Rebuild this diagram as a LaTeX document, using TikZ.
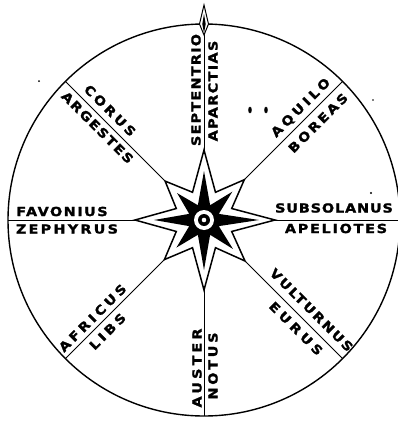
\documentclass[tikz,border=0pt]{standalone}
\usepackage{fontspec}
\newfontfamily\lab{DejaVu Sans Bold}[FakeStretch=1.15, FakeBold=1.6]
\newcommand\wsp[2]{{\addfontfeature{LetterSpace=#1}#2}}
\begin{document}
\begin{tikzpicture}[x=1pt,y=-1pt,
  lbl/.style={font=\lab\fontsize{12.5}{12.5}\selectfont, inner sep=0pt},
  rim/.style={line width=1.4pt},
  ray/.style={line width=1pt},
  outstar/.style={fill=white, draw=black, line width=1.5pt, line join=miter},
  instar/.style={fill=black}]
\useasboundingbox (0,0) rectangle (398,423);
\fill[white] (0,0) rectangle (398,423);
\coordinate (C) at (204,220);
\draw[rim] (C) circle[radius=196];
\begin{scope}[shift={(204,220)}]
  % rim points
  \coordinate (rN) at (-90:196);
  \coordinate (rS) at (90:196);
  \coordinate (rE) at (0:196);
  \coordinate (rW) at (180:196);
  \coordinate (rNE) at (-45:196);
  \coordinate (rSE) at (45:196);
  \coordinate (rSW) at (135:196);
  \coordinate (rNW) at (-135:196);
  % star tips
  \coordinate (tN) at (-90:70);
  \coordinate (tS) at (90:70);
  \coordinate (tE) at (0:71);
  \coordinate (tW) at (180:69);
  \coordinate (tNE) at (-45:57);
  \coordinate (tSE) at (45:58);
  \coordinate (tSW) at (135:56);
  \coordinate (tNW) at (-135:55);
  \draw[ray] (tN) -- (rN);
  \draw[ray] (tS) -- (rS);
  \draw[ray] (tE) -- (rE);
  \draw[ray] (tW) -- (rW);
  \draw[ray] (tNE) -- (rNE);
  \draw[ray] (tSE) -- (rSE);
  \draw[ray] (tSW) -- (rSW);
  \draw[ray] (tNW) -- (rNW);
  % star
  \path[outstar] (tN) -- (-67.5:30) -- (tNE) -- (-22.5:30) -- (tE) -- (22.5:30) -- (tSE) -- (67.5:30) -- (tS) -- (112.5:30) -- (tSW) -- (157.5:30) -- (tW) -- (-157.5:30) -- (tNW) -- (-112.5:30) -- cycle;
  \path[instar] (-90:49) -- (-67.5:16) -- (-45:40) -- (-22.5:16) -- (0:55) -- (22.5:16) -- (45:41) -- (67.5:16) -- (90:50) -- (112.5:16) -- (135:39) -- (157.5:16) -- (180:50) -- (-157.5:16) -- (-135:38) -- (-112.5:16) -- cycle;
  \fill[white] (0,0) circle[radius=10];
  \fill[black] (0,0) circle[radius=6];
  \fill[white] (0,0) circle[radius=2.3];
\end{scope}
% top diamond
\filldraw[fill=white, draw=black, line width=1pt] (204,5) -- (199.5,24) -- (204,35) -- (208.5,24) -- cycle;
\fill[black] (204,14) -- (202.3,24) -- (204,33) -- (205.7,24) -- cycle;
% labels
\node[lbl, rotate=90] (septentrio) at (196,90) {\wsp{10}{SEPTENTRIO}};
\node[lbl, rotate=90] (aparctias) at (213,91) {\wsp{11}{APARCTIAS}};
\node[lbl, rotate=45] (aquilo) at (301,108) {\wsp{26}{AQUILO}};
\node[lbl, rotate=45] (boreas) at (318,123) {\wsp{20}{BOREAS}};
\node[lbl] (subsolanus) at (334,208) {\wsp{7}{SUBSOLANUS}};
\node[lbl] (apeliotes) at (336,228.5) {\wsp{14}{APELIOTES}};
\node[lbl, rotate=-45] (vulturnus) at (311.5,310) {\wsp{15}{VULTURNUS}};
\node[lbl, rotate=-45] (eurus) at (296,328.5) {\wsp{30}{EURUS}};
\node[lbl, rotate=90] (auster) at (197,368) {\wsp{25}{AUSTER}};
\node[lbl, rotate=90] (notus) at (213,366) {\wsp{22}{NOTUS}};
\node[lbl, rotate=45] (africus) at (92.5,318) {\wsp{26}{AFRICUS}};
\node[lbl, rotate=45] (libs) at (107.5,331.5) {\wsp{26}{LIBS}};
\node[lbl] (favonius) at (62,211.5) {\wsp{12}{FAVONIUS}};
\node[lbl] (zephyrus) at (67,229) {\wsp{18}{ZEPHYRUS}};
\node[lbl, rotate=-45] (corus) at (110,110.5) {\wsp{22}{CORUS}};
\node[lbl, rotate=-45] (argestes) at (97.5,127.5) {\wsp{13}{ARGESTES}};
% dots and specks
\fill (250,110) ellipse[x radius=1.8, y radius=3.3];
\fill (266,110) ellipse[x radius=1.8, y radius=3.3];
\fill (39,81) circle[radius=1];
\fill (373,100) circle[radius=0.9];
\fill (371,193) circle[radius=1.2];
\end{tikzpicture}
\end{document}
